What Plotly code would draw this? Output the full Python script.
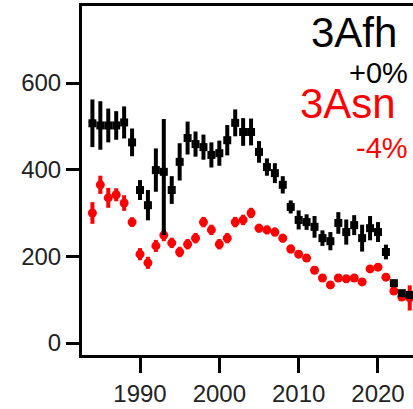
import plotly.graph_objects as go

years = list(range(1984, 2025))

afh = [507, 502, 502, 502, 509, 463, 353, 318, 399, 395,
       353, 418, 473, 459, 452, 434, 438, 468, 508, 487,
       487, 441, 406, 392, 365, 314, 284, 279, 268, 242,
       235, 277, 256, 272, 242, 265, 256, 210, 138, 115, 111]
afh_plus = [55, 56, 39, 33, 37, 32, 23, 35, 50, 122,
            32, 43, 38, 29, 29, 29, 29, 35, 31, 32,
            31, 25, 20, 23, 20, 15, 22, 18, 25, 18,
            21, 25, 29, 23, 31, 28, 23, 17, 8, 6, 6]
afh_minus = [55, 56, 39, 33, 37, 32, 23, 35, 50, 146,
             32, 43, 38, 29, 29, 29, 29, 35, 31, 32,
             31, 25, 20, 23, 20, 15, 22, 18, 25, 18,
             21, 25, 29, 23, 31, 28, 23, 17, 8, 6, 6]

asn = [300, 365, 335, 342, 323, 279, 205, 185, 224, 249,
       231, 210, 228, 242, 279, 261, 228, 242, 279, 284,
       300, 265, 261, 256, 242, 217, 205, 196, 168, 150,
       134, 150, 148, 150, 141, 171, 175, 152, 120, 106, 104]
asn_err = [25, 21, 23, 15, 18, 11, 14, 14, 14, 14,
           12, 12, 12, 12, 12, 12, 12, 12, 12, 12,
           12, 10, 10, 10, 10, 10, 9, 9, 9, 9,
           9, 9, 9, 9, 9, 9, 9, 9, 9, 9, 29]

labels = [("3Afh", "black", 42, 399, 33),
          ("+0%", "black", 29, 410, 73),
          ("3Asn", "#ff0000", 42, 398, 103),
          ("-4%", "#ff0000", 29, 410, 148)]

W, H = 413, 409
L, R, T, B = 82, 0, 6, 54
PXY = 7.933          # pixels per year
Y0PIX, PXV = 343, 0.43333  # pixel of value 0, pixels per unit

xr = [1990 - (140 - L) / PXY, 1990 + (W - R - 140) / PXY]
yr = [(Y0PIX - (H - B)) / PXV, (Y0PIX - T) / PXV]

fig = go.Figure()
fig.add_trace(go.Scatter(
    x=years, y=asn, mode="markers",
    marker=dict(symbol="circle", size=9, color="#ff0000"),
    error_y=dict(type="data", array=asn_err, color="#ff0000", thickness=4, width=0),
    showlegend=False))
fig.add_trace(go.Scatter(
    x=years, y=afh, mode="markers",
    marker=dict(symbol="square", size=8, color="black"),
    error_y=dict(type="data", array=afh_plus, arrayminus=afh_minus, symmetric=False,
                 color="black", thickness=4, width=0),
    showlegend=False))

pw = W - L - R
ph = H - T - B
for txt, col, sz, xp, yp in labels:
    fig.add_annotation(text=txt, xref="paper", yref="paper",
                       x=(xp - L) / pw, y=(H - B - yp) / ph,
                       xanchor="right", yanchor="middle", showarrow=False,
                       font=dict(family="Liberation Sans, Arial", size=sz, color=col))

fig.update_layout(
    width=W, height=H,
    margin=dict(l=L, r=R, t=T, b=B, pad=0),
    paper_bgcolor="white", plot_bgcolor="white",
    font=dict(family="Liberation Sans, Arial", size=24, color="#222222"),
    xaxis=dict(range=xr, tickvals=[1990, 2000, 2010, 2020], ticks="outside",
               ticklen=15, tickwidth=3, tickcolor="black",
               showline=True, linecolor="black", linewidth=3, mirror=True,
               showgrid=False, zeroline=False),
    yaxis=dict(range=yr, tickvals=[0, 200, 400, 600], ticks="outside",
               ticklen=13, tickwidth=3, tickcolor="black",
               showline=True, linecolor="black", linewidth=3, mirror=False,
               showgrid=False, zeroline=False),
)

fig.write_html("out.html")
